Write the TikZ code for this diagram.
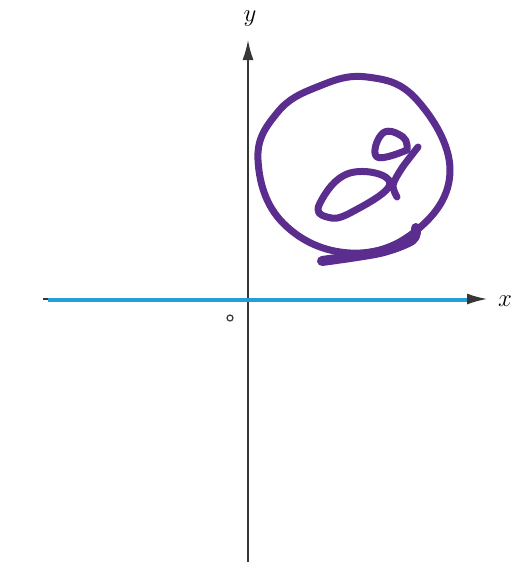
\documentclass[tikz,border=0pt]{standalone}
\usetikzlibrary{arrows.meta}
\definecolor{axisgray}{RGB}{55,55,55}
\definecolor{lineblue}{RGB}{35,158,215}
\definecolor{penpurple}{RGB}{91,45,142}

\begin{document}
\begin{tikzpicture}[x=1pt, y=-1pt,
    axis/.style={draw=axisgray, line width=1.6pt, -{Latex[length=20pt,width=11pt]}},
    lbl/.style={font=\fontsize{30}{36}\selectfont, inner sep=0pt},
    ink/.style={draw=penpurple, line width=7pt, line cap=round, line join=round},
  ]
    \useasboundingbox (0,0) rectangle (512,562);

    % axes
    \coordinate (xs) at (43,299);
    \coordinate (xe) at (487,299);
    \coordinate (ys) at (248,562);
    \coordinate (ye) at (248,40);
    \draw[axis] (xs) -- (xe);
    \draw[axis] (ys) -- (ye);
    \node[lbl] (xl) at (505,301) {$x$};
    \node[lbl] (yl) at (250,19) {$y$};

    % blue line over the x-axis
    \coordinate (bs) at (48,300);
    \coordinate (be) at (467,300);
    \draw[lineblue, line width=4.5pt] (bs) -- (be);

    % small origin mark
    \node[circle, draw=axisgray, line width=1.2pt, minimum size=6pt, inner sep=0pt] (pt) at (230,318) {};

    % hand-drawn circle
    \draw[ink] plot[smooth cycle, tension=0.7] coordinates {
      (258,160) (277,113) (317,87) (367,77) (417,100) (450,170)
      (417,230) (350,253) (283,223)};
    \draw[ink, line width=10pt] plot[smooth] coordinates {(322,261) (380,252) (412,240) (416,228)};

    % hand-written g
    \draw[ink] plot[smooth, tension=0.8] coordinates {
      (407,150) (377,157) (383,133) (403,137) (407,150)};
    \draw[ink] plot[smooth] coordinates {(418,147) (402,168) (393,185) (397,197)};
    \draw[ink] plot[smooth cycle, tension=0.8] coordinates {
      (390,183) (350,173) (320,203) (327,217) (352,212)};
  \end{tikzpicture}
\end{document}
